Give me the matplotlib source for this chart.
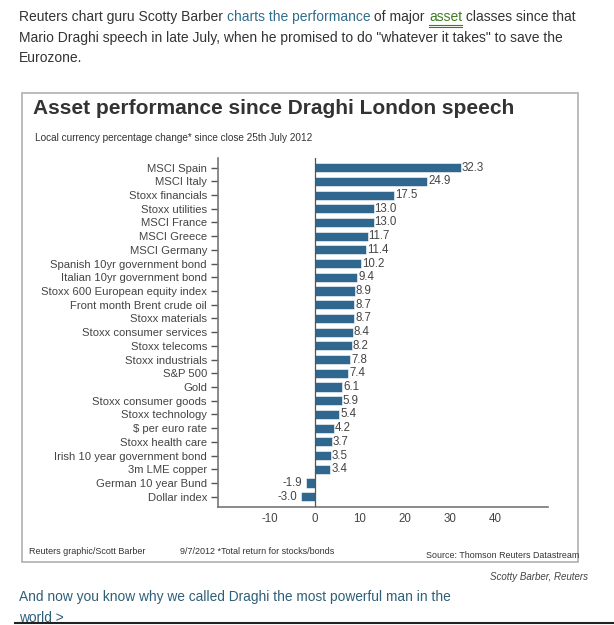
import matplotlib
matplotlib.use("Agg")
import matplotlib.pyplot as plt
from matplotlib.patches import Rectangle
from matplotlib.lines import Line2D

categories = ["MSCI Spain", "MSCI Italy", "Stoxx financials", "Stoxx utilities",
              "MSCI France", "MSCI Greece", "MSCI Germany", "Spanish 10yr government bond",
              "Italian 10yr government bond", "Stoxx 600 European equity index",
              "Front month Brent crude oil", "Stoxx materials", "Stoxx consumer services",
              "Stoxx telecoms", "Stoxx industrials", "S&P 500", "Gold",
              "Stoxx consumer goods", "Stoxx technology", "$ per euro rate",
              "Stoxx health care", "Irish 10 year government bond", "3m LME copper",
              "German 10 year Bund", "Dollar index"]
values = [32.3, 24.9, 17.5, 13.0, 13.0, 11.7, 11.4, 10.2, 9.4, 8.9, 8.7, 8.7, 8.4,
          8.2, 7.8, 7.4, 6.1, 5.9, 5.4, 4.2, 3.7, 3.5, 3.4, -1.9, -3.0]
xticks = [-10, 0, 10, 20, 30, 40]

W, H = 614, 625
fig = plt.figure(figsize=(W / 100, H / 100), dpi=100)
fig.patch.set_facecolor("white")
plt.rcParams["font.family"] = ["Liberation Sans", "DejaVu Sans"]

def fx(x):
    return x / W

def fy(y):
    return 1 - y / H

TXT = "#333333"
LINK = "#2f6d8c"
GREEN = "#3d7d22"
BAR = "#2f678e"
GRAY = "#444444"

# chart box
box = Rectangle((fx(22), fy(562)), fx(578) - fx(22), fy(93) - fy(562),
                transform=fig.transFigure, fill=False, edgecolor="#b0b0b0", lw=1.2)
fig.add_artist(box)

# axes
ax = fig.add_axes([fx(218), fy(507), fx(548) - fx(218), fy(158) - fy(507)])
n = len(categories)
ypos = list(range(n))
ax.barh(ypos, values, height=0.66, color=BAR, edgecolor="white", linewidth=0.4, zorder=2)
ax.set_ylim(n - 1 + 0.75, -0.7)
ax.set_xlim(-21.5, 51.7)
ax.set_yticks(ypos)
ax.set_yticklabels(categories, fontsize=8.1, color=GRAY)
ax.set_xticks(xticks)
ax.set_xticklabels([str(t) for t in xticks], fontsize=8.3, color=GRAY)
ax.tick_params(axis="y", length=5, width=1, color="#555555", pad=3)
ax.tick_params(axis="x", length=0, pad=4)
for s in ["top", "right"]:
    ax.spines[s].set_visible(False)
for s in ["left", "bottom"]:
    ax.spines[s].set_color("#777777")
    ax.spines[s].set_linewidth(1.2)
ax.axvline(0, color="#555555", lw=0.9, zorder=3)
for y, v in zip(ypos, values):
    if v >= 0:
        ax.text(v + 0.2, y, f"{v:.1f}", va="center", ha="left", fontsize=8.3, color=GRAY)
    else:
        ax.text(v - 0.9, y, f"{v:.1f}", va="center", ha="right", fontsize=8.3, color=GRAY)

# title & subtitle
fig.text(fx(33), fy(109), "Asset performance since Draghi London speech", fontsize=15.0,
         fontweight="bold", color="#333333", va="center", ha="left")
fig.text(fx(35), fy(138), "Local currency percentage change* since close 25th July 2012",
         fontsize=7.2, color="#333333", va="center", ha="left")

# footer in box
fig.text(fx(29), fy(552), "Reuters graphic/Scott Barber", fontsize=6.5, color=TXT, va="center")
fig.text(fx(180), fy(552), "9/7/2012 *Total return for stocks/bonds", fontsize=6.5, color=TXT, va="center")
fig.text(fx(579), fy(556), "Source: Thomson Reuters Datastream", fontsize=6.4, color=TXT,
         va="center", ha="right")

# header paragraph with coloured segments
fig.canvas.draw()
renderer = fig.canvas.get_renderer()

def line_segments(x, y, segs, size=10.0):
    cur = fx(x)
    for text, color, underline in segs:
        t = fig.text(cur, fy(y), text, fontsize=size, color=color, va="center", ha="left")
        bb = t.get_window_extent(renderer=renderer)
        x0 = bb.x0 / fig.dpi / fig.get_size_inches()[0]
        x1 = bb.x1 / fig.dpi / fig.get_size_inches()[0]
        if underline:
            for dy in (8, 10):
                fig.add_artist(Line2D([x0, x1], [fy(y + dy), fy(y + dy)], color=color,
                                      lw=0.8, transform=fig.transFigure))
        cur = x1

line_segments(19, 17, [("Reuters chart guru Scotty Barber ", TXT, False),
                       ("charts the performance", LINK, False),
                       (" of major ", TXT, False),
                       ("asset", GREEN, True),
                       (" classes since that", TXT, False)])
line_segments(19, 38, [("Mario Draghi speech in late July, when he promised to do \"whatever it takes\" to save the", TXT, False)])
line_segments(19, 58, [("Eurozone.", TXT, False)])

fig.text(fx(588), fy(577), "Scotty Barber, Reuters", fontsize=7, style="italic", color=GRAY,
         ha="right", va="center")
fig.text(fx(19), fy(597), "And now you know why we called Draghi the most powerful man in the",
         fontsize=9.9, color="#2e5f78", va="center")
fig.text(fx(19), fy(618), "world >", fontsize=9.9, color="#2e5f78", va="center")
fig.add_artist(Line2D([fx(15), 1], [fy(623), fy(623)], color="#222222", lw=1.5,
                      transform=fig.transFigure))

fig.savefig("out.png", dpi=100, facecolor="white")
